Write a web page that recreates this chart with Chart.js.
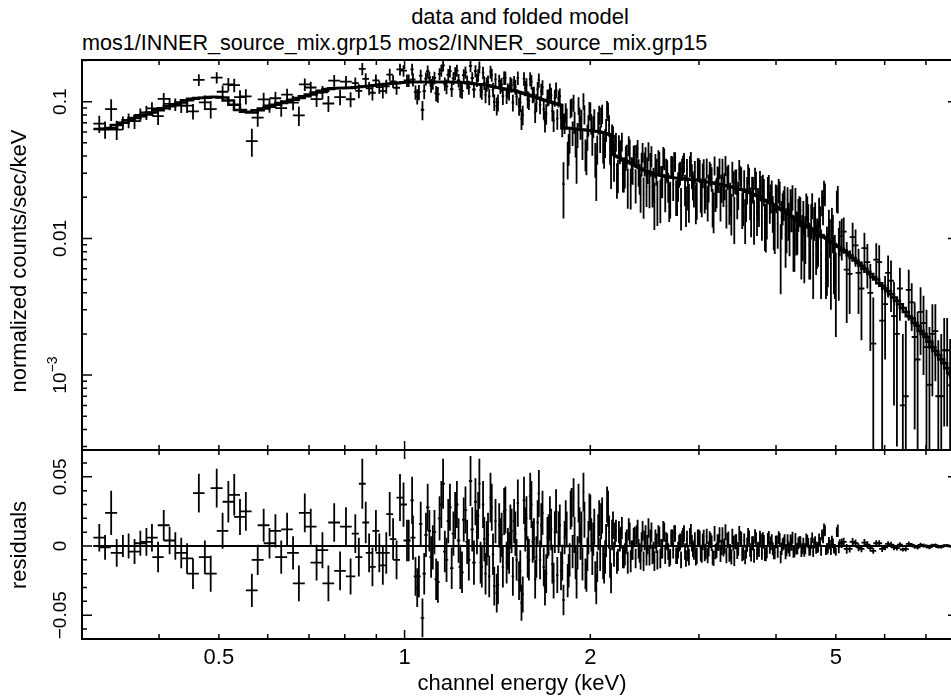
<!DOCTYPE html>
<html><head><meta charset="utf-8">
<script src="https://cdn.jsdelivr.net/npm/chart.js@4.4.1/dist/chart.umd.min.js"></script>
<style>
html,body{margin:0;padding:0;background:#fff;width:951px;height:697px;overflow:hidden;}
#wrap{position:relative;width:951px;height:697px;overflow:hidden;font-family:'Liberation Sans',Arial,Helvetica,sans-serif;color:#000;}
.t{position:absolute;white-space:nowrap;font-size:22px;line-height:22px;}
#t1{left:0;width:1040px;text-align:center;top:6px;}
#t2{left:82px;top:32px;font-size:21.6px;}
#c1{position:absolute;left:0;top:0;}
#c2{position:absolute;left:0;top:440px;}
</style></head>
<body><div id="wrap">
<div class="t" id="t1">data and folded model</div>
<div class="t" id="t2">mos1/INNER_source_mix.grp15 mos2/INNER_source_mix.grp15</div>
<canvas id="c1" width="970" height="460"></canvas>
<canvas id="c2" width="970" height="257"></canvas>
</div>
<script>
// ---------------- data (keV, normalized counts/sec/keV) ----------------
const edgesMos1 = [0.313,0.327,0.342,0.357,0.373,0.390,0.407,0.425,0.444,0.464,0.485,0.507,0.529,0.553,0.578,0.604,0.631,0.659,0.689,0.720,0.752,0.786,0.821,
0.843,0.865,0.887,0.910,0.934,0.958,0.983,1.009,1.022,1.035,1.048,1.062,1.076,1.090,1.104,1.118,1.132,1.147,1.162,1.177,1.192,1.208,1.223,1.239,1.255,1.271,1.287,1.304,
1.316,1.328,1.340,1.353,1.365,1.378,1.391,1.404,1.417,1.430,1.443,1.457,1.470,1.484,1.498,1.512,1.526,1.540,1.554,1.569,1.583,1.598,1.613,1.628,1.643,1.658,1.673,1.689,1.704,1.720,1.736,1.752,1.768,1.785,1.801,1.818,
1.831,1.845,1.858,1.872,1.886,1.900,1.914,1.928,1.942,1.957,1.971,1.986,2.000,2.015,2.030,2.045,2.060,2.075,2.090,2.106,2.121,2.137,2.153,2.169,2.185,2.201,2.217,2.234,2.250,2.267,2.283,2.300,2.317,2.334,2.351,2.369,2.386,2.404,2.422,2.440,2.458,2.476,2.494,2.513,2.531,2.550,2.569,2.588,2.607,2.626,2.645,2.665,2.685,2.705,2.725,2.745,2.765,2.786,2.806,2.827,2.848,2.869,2.890,2.911,2.933,2.955,2.976,2.998,3.020,3.043,
3.065,3.088,3.111,3.134,3.157,3.180,3.204,3.228,3.251,3.275,3.300,3.324,3.348,3.373,3.398,3.423,3.448,3.474,3.500,3.526,3.552,3.578,3.604,3.631,3.658,3.685,3.712,3.740,3.767,3.795,3.823,3.851,3.880,3.908,3.937,3.966,3.996,4.025,4.055,4.085,4.115,4.145,4.176,4.207,4.238,4.269,4.300,4.332,4.364,4.397,4.429,4.462,4.495,4.528,4.561,4.595,4.629,4.663,4.697,4.732,4.767,4.802,4.837,4.873,4.909,4.946,4.982,5.019,5.056,5.093,
5.207,5.323,5.442,5.563,5.687,5.814,5.944,6.076,6.212,6.350,6.492,6.637,6.785,6.936,7.091,7.249,7.411,7.576,7.745,7.900];
const rateMos1 = [0.069,0.0882,0.070,0.072,0.0835,0.0785,0.0965,0.0935,0.085,0.099,0.150,0.134,0.108,0.0515,0.104,0.106,0.1125,0.0794,0.127,0.117,0.1425,0.140,
0.1365,0.174,0.1253,0.143,0.1195,0.158,0.1265,0.1685,0.1433,0.1723,0.1173,0.1173,0.0873,0.1473,0.1503,0.1383,0.1153,0.1593,0.1843,0.1293,0.1673,0.1482,0.169,0.123,0.1565,0.1395,0.1825,0.1228,
0.1443,0.179,0.1183,0.1378,0.134,0.1092,0.157,0.0995,0.0932,0.1413,0.133,0.1492,0.111,0.1172,0.132,0.1382,0.109,0.0928,0.075,0.1475,0.1327,0.1018,0.140,0.1138,0.099,0.1437,0.119,0.0878,0.0819,0.1083,0.1113,0.073,0.122,0.1055,0.0766,0.025,
0.0842,0.039,0.0538,0.0915,0.0983,0.0511,0.0579,0.0776,0.0744,0.1012,0.042,0.0557,0.0865,0.0693,0.0661,0.0388,0.0456,0.0802,0.0778,0.0473,0.0508,0.0883,0.0675,0.034,0.056,0.048,0.0275,0.0488,0.0442,0.0297,0.0312,0.0405,0.0479,0.0243,0.0317,0.041,0.0414,0.0309,0.0224,0.0429,0.0354,0.024,0.0436,0.0352,0.0238,0.0185,0.0313,0.0371,0.0199,0.0267,0.0385,0.0323,0.0242,0.020,0.0338,0.0367,0.0206,0.0245,0.0304,0.0323,0.0362,0.0181,0.022,0.0339,0.0289,0.0228,0.0187,0.0326,0.0314,0.0203,
0.0322,0.0219,0.0188,0.0306,0.0275,0.0163,0.0211,0.028,0.0328,0.0237,0.0225,0.0343,0.0281,0.018,0.0158,0.0256,0.0264,0.0191,0.0319,0.0277,0.0175,0.0142,0.0229,0.0276,0.0153,0.023,0.0277,0.0154,0.0171,0.0236,0.0242,0.0129,0.0146,0.0243,0.020,0.0157,0.0123,0.0199,0.0226,0.0083,0.0169,0.0196,0.0122,0.0139,0.0186,0.0202,0.0099,0.0116,0.0153,0.016,0.0108,0.0085,0.0173,0.014,0.0088,0.0176,0.0133,0.009,0.0098,0.0136,0.0185,0.0222,0.007,0.0077,0.0105,0.0133,0.0071,0.0049,0.0197,0.0104,
0.0112,0.0055,0.0089,0.0043,0.0067,0.0017,0.0067,0.0033,0.0049,0.002,0.0006,0.0042,0.0019,0.0029,0.0016,0.002,0.0007,0.00152,0.00084,0.0011];
const errMos1 = [0.010,0.016,0.008,0.009,0.010,0.011,0.010,0.011,0.011,0.012,0.014,0.015,0.013,0.012,0.012,0.012,0.012,0.013,0.013,0.013,0.014,0.014,
0.014,0.018,0.014,0.015,0.014,0.016,0.014,0.016,0.015,0.017,0.014,0.015,0.014,0.016,0.015,0.016,0.015,0.016,0.018,0.016,0.017,0.016,0.017,0.016,0.016,0.016,0.018,0.016,
0.016,0.018,0.015,0.016,0.016,0.015,0.017,0.014,0.014,0.016,0.016,0.017,0.015,0.015,0.016,0.016,0.015,0.014,0.013,0.017,0.016,0.015,0.017,0.015,0.015,0.017,0.016,0.014,0.014,0.015,0.015,0.013,0.016,0.015,0.014,0.011,
0.013,0.012,0.012,0.014,0.014,0.012,0.012,0.013,0.013,0.014,0.011,0.012,0.013,0.012,0.012,0.011,0.011,0.013,0.013,0.012,0.012,0.013,0.012,0.011,0.010,0.009,0.008,0.008,0.008,0.008,0.008,0.008,0.008,0.008,0.007,0.007,0.007,0.007,0.007,0.007,0.007,0.007,0.007,0.007,0.007,0.007,0.007,0.007,0.007,0.007,0.007,0.006,0.006,0.006,0.006,0.006,0.006,0.006,0.006,0.006,0.006,0.006,0.006,0.006,0.006,0.006,0.006,0.006,0.006,0.006,
0.0058,0.0056,0.0055,0.0057,0.0056,0.0054,0.0055,0.0055,0.0056,0.0055,0.0055,0.0057,0.0055,0.0054,0.0053,0.0054,0.0054,0.0053,0.0055,0.0054,0.0052,0.0051,0.0052,0.0052,0.0051,0.0051,0.0052,0.005,0.005,0.005,0.005,0.0048,0.0048,0.0048,0.0048,0.0047,0.0046,0.0046,0.0046,0.0044,0.0045,0.0045,0.0044,0.0043,0.0043,0.0043,0.0042,0.0041,0.0041,0.004,0.004,0.0038,0.004,0.0038,0.0038,0.0038,0.0037,0.0036,0.0036,0.0036,0.004,0.0042,0.0034,0.0033,0.0033,0.0034,0.0032,0.003,0.0045,0.003,
0.0030,0.0027,0.0027,0.0025,0.0024,0.0020,0.0022,0.0020,0.0020,0.0017,0.0014,0.0017,0.0015,0.0015,0.0014,0.0013,0.0011,0.0011,0.0010,0.0009];
const modelMos1 = [0.0630,0.0642,0.0700,0.0760,0.0805,0.0865,0.0925,0.0985,0.1050,0.1070,0.1082,0.1020,0.0870,0.0835,0.0890,0.0950,0.1005,0.1064,0.1130,0.1200,0.1255,0.1260,
0.1275,0.129,0.1303,0.132,0.1335,0.135,0.1365,0.1385,0.1393,0.1393,0.1393,0.1393,0.1393,0.1393,0.1393,0.1393,0.1393,0.1393,0.1393,0.1393,0.1393,0.1392,0.139,0.138,0.1375,0.1365,0.1355,0.1348,
0.1343,0.134,0.1333,0.1328,0.132,0.1312,0.129,0.1285,0.1272,0.1263,0.125,0.1242,0.123,0.1222,0.121,0.1202,0.119,0.1178,0.116,0.1145,0.1127,0.1118,0.110,0.1088,0.107,0.1057,0.104,0.1028,0.1019,0.1003,0.0993,0.098,0.097,0.0955,0.0946,0.064,
0.0642,0.064,0.0638,0.0635,0.0633,0.0631,0.0629,0.0626,0.0624,0.0622,0.062,0.0617,0.0615,0.0613,0.0611,0.0608,0.0606,0.0602,0.0598,0.0593,0.0588,0.0583,0.0575,0.0572,0.041,0.040,0.0395,0.0388,0.0382,0.0377,0.0372,0.0365,0.0359,0.0353,0.0347,0.034,0.0334,0.0329,0.0324,0.0319,0.0314,0.031,0.0306,0.0302,0.0298,0.0295,0.0293,0.0291,0.0289,0.0287,0.0285,0.0283,0.0282,0.028,0.0278,0.0277,0.0276,0.0275,0.0274,0.0273,0.0272,0.0271,0.027,0.0269,0.0269,0.0268,0.0267,0.0266,0.0264,0.0263,
0.0262,0.0259,0.0258,0.0256,0.0255,0.0253,0.0251,0.025,0.0248,0.0247,0.0245,0.0243,0.0241,0.024,0.0238,0.0236,0.0234,0.0231,0.0229,0.0227,0.0225,0.0222,0.0219,0.0216,0.0213,0.021,0.0207,0.0204,0.0201,0.0196,0.0192,0.0189,0.0186,0.0183,0.018,0.0177,0.0173,0.0169,0.0166,0.0163,0.0159,0.0156,0.0152,0.0149,0.0146,0.0142,0.0139,0.0136,0.0133,0.013,0.0128,0.0125,0.0123,0.012,0.0118,0.0116,0.0113,0.011,0.0108,0.0106,0.0105,0.0102,0.01,0.0097,0.0095,0.0093,0.0091,0.0089,0.0087,0.0085,
0.0082,0.0075,0.0069,0.0063,0.0057,0.0052,0.0047,0.0043,0.0039,0.0035,0.0031,0.0027,0.0024,0.0021,0.0019,0.0016,0.0014,0.00122,0.00104,0.0009];

const edgesMos2 = [0.320,0.334,0.349,0.365,0.381,0.398,0.416,0.434,0.454,0.474,0.496,0.518,0.541,0.565,0.591,0.617,0.645,0.674,0.704,0.736,0.769,0.803,0.832,
0.854,0.876,0.898,0.922,0.946,0.970,0.996,1.022,1.0415,1.055,1.069,1.083,1.097,1.111,1.125,1.1395,1.1545,1.1695,1.1845,1.200,1.2155,1.231,1.247,1.263,1.279,1.2955,1.310,
1.322,1.334,1.3465,1.359,1.3715,1.3845,1.3975,1.4105,1.4235,1.4365,1.45,1.4635,1.477,1.491,1.505,1.519,1.533,1.547,1.5615,1.576,1.5905,1.6055,1.6205,1.6355,1.6505,1.6655,1.681,1.6965,1.712,1.728,1.744,1.760,1.7765,1.793,1.8095,1.8245,
1.838,1.8515,1.865,1.879,1.893,1.907,1.921,1.935,1.9495,1.964,1.9785,1.993,2.0075,2.0225,2.0375,2.0525,2.0675,2.0825,2.098,2.1135,2.129,2.145,2.161,2.177,2.193,2.209,2.2255,2.242,2.2585,2.275,2.2915,2.3085,2.3255,2.3425,2.36,2.3775,2.395,2.413,2.431,2.449,2.467,2.485,2.5035,2.522,2.5405,2.5595,2.5785,2.5975,2.6165,2.6355,2.655,2.675,2.695,2.715,2.735,2.755,2.7755,2.796,2.8165,2.8375,2.8585,2.8795,2.9005,2.922,2.944,2.9655,2.987,3.009,3.0315,
3.054,3.0765,3.0995,3.1225,3.1455,3.1685,3.192,3.216,3.2395,3.263,3.2875,3.312,3.336,3.3605,3.3855,3.4105,3.4355,3.461,3.487,3.513,3.539,3.565,3.591,3.6175,3.6445,3.6715,3.6985,3.726,3.7535,3.781,3.809,3.837,3.8655,3.894,3.9225,3.9515,3.981,4.0105,4.04,4.07,4.10,4.13,4.1605,4.1915,4.2225,4.2535,4.2845,4.316,4.348,4.3805,4.413,4.4455,4.4785,4.5115,4.5445,4.578,4.612,4.646,4.68,4.7145,4.7495,4.7845,4.8195,4.855,4.891,4.9275,4.964,5.0005,5.0375,5.0745,5.150,
5.265,5.382,5.502,5.625,5.750,5.879,6.010,6.144,6.281,6.421,6.564,6.711,6.860,7.013,7.170,7.330,7.493,7.660,7.830];
const rateMos2 = [0.0625,0.0625,0.073,0.0802,0.0892,0.1047,0.0955,0.0935,0.1445,0.0882,0.1182,0.132,0.1095,0.0765,0.094,0.0897,0.0985,0.1337,0.1045,0.097,0.108,0.1042,
0.120,0.1467,0.1162,0.128,0.1295,0.141,0.1725,0.143,0.1453,0.1093,0.1553,0.1193,0.1673,0.1313,0.1493,0.1133,0.1693,0.1353,0.1573,0.1233,0.1613,0.1432,0.120,0.164,0.1275,0.1485,0.1675,
0.1563,0.1218,0.163,0.1124,0.1396,0.1651,0.1227,0.1457,0.0987,0.1296,0.1096,0.1496,0.1206,0.1356,0.0986,0.1286,0.1494,0.0989,0.0802,0.1256,0.1042,0.1469,0.1124,0.0839,0.1233,0.0949,0.1274,0.0724,0.1071,0.1198,0.0856,0.1068,0.0752,0.110,0.068,0.070,
0.0762,0.046,0.0898,0.0595,0.0713,0.0361,0.0939,0.0646,0.0494,0.0812,0.040,0.0677,0.0855,0.0523,0.0751,0.0298,0.0706,0.0542,0.0818,0.0433,0.0628,0.0853,0.0455,0.057,0.035,0.051,0.0295,0.0428,0.0512,0.0297,0.0392,0.0245,0.0449,0.0323,0.0407,0.025,0.0454,0.0279,0.0354,0.0209,0.0394,0.032,0.0236,0.0402,0.0258,0.0345,0.0193,0.0361,0.0269,0.0397,0.0225,0.0313,0.0192,0.034,0.0248,0.0367,0.0206,0.0295,0.0174,0.0343,0.0232,0.0321,0.019,0.0369,0.0249,0.0308,0.0197,0.0326,0.0214,0.0293,
0.0212,0.0329,0.0238,0.0296,0.0175,0.0343,0.0221,0.027,0.0188,0.0327,0.0245,0.0173,0.0291,0.020,0.0308,0.0146,0.0264,0.0211,0.0289,0.0167,0.0265,0.0182,0.0299,0.0186,0.0233,0.014,0.0257,0.0184,0.0261,0.0146,0.0222,0.0129,0.0236,0.0173,0.022,0.0127,0.0203,0.0129,0.0216,0.0143,0.0179,0.0106,0.0192,0.0119,0.0156,0.0102,0.0189,0.0116,0.0163,0.009,0.0148,0.0105,0.0163,0.009,0.0138,0.0076,0.0143,0.010,0.0158,0.0076,0.0165,0.0212,0.008,0.0127,0.0065,0.0113,0.0071,0.0189,0.0077,0.0104,
0.0059,0.0102,0.0056,0.0085,0.004,0.007,0.0025,0.0056,0.0027,0.0043,0.0007,0.0034,0.0013,0.0024,0.00085,0.0021,0.0007,0.00152,0.00087];
const errMos2 = [0.009,0.010,0.009,0.009,0.010,0.011,0.010,0.011,0.014,0.013,0.013,0.015,0.014,0.011,0.011,0.012,0.012,0.014,0.013,0.013,0.014,0.013,
0.014,0.015,0.014,0.014,0.015,0.015,0.017,0.015,0.016,0.014,0.016,0.015,0.017,0.015,0.016,0.015,0.017,0.015,0.016,0.015,0.017,0.016,0.015,0.017,0.015,0.016,0.017,
0.017,0.015,0.017,0.015,0.016,0.018,0.015,0.016,0.014,0.016,0.015,0.017,0.015,0.016,0.014,0.016,0.017,0.015,0.013,0.016,0.015,0.017,0.015,0.014,0.016,0.014,0.016,0.013,0.015,0.016,0.014,0.015,0.013,0.015,0.013,0.012,
0.013,0.012,0.014,0.012,0.013,0.011,0.014,0.012,0.012,0.013,0.011,0.012,0.013,0.012,0.013,0.011,0.013,0.012,0.013,0.011,0.012,0.013,0.011,0.011,0.009,0.008,0.008,0.008,0.008,0.008,0.008,0.008,0.008,0.007,0.007,0.007,0.007,0.007,0.007,0.007,0.007,0.007,0.007,0.007,0.007,0.007,0.007,0.007,0.007,0.007,0.007,0.006,0.006,0.006,0.006,0.006,0.006,0.006,0.006,0.006,0.006,0.006,0.006,0.006,0.006,0.006,0.006,0.006,0.006,0.006,0.006,
0.0055,0.0055,0.0055,0.0055,0.0055,0.0055,0.0055,0.0055,0.0055,0.0055,0.0055,0.0055,0.0055,0.0055,0.0055,0.0055,0.005,0.005,0.005,0.005,0.005,0.005,0.005,0.005,0.005,0.005,0.005,0.005,0.005,0.005,0.005,0.0045,0.0045,0.0045,0.0045,0.0045,0.0045,0.0045,0.0045,0.0045,0.0045,0.0045,0.0045,0.0045,0.0045,0.0045,0.004,0.004,0.004,0.004,0.004,0.004,0.004,0.004,0.004,0.004,0.004,0.004,0.004,0.004,0.004,0.0042,0.0035,0.0035,0.0035,0.0035,0.0035,0.0042,0.0035,0.0035,
0.0028,0.0028,0.0025,0.0025,0.0022,0.0023,0.0019,0.0021,0.0018,0.0018,0.0013,0.0016,0.0014,0.0014,0.0012,0.0013,0.0011,0.0011,0.0009];
const modelMos2 = [0.0635,0.0675,0.073,0.0782,0.0832,0.0897,0.0955,0.1025,0.1062,0.1082,0.1072,0.095,0.0845,0.0865,0.092,0.0977,0.1035,0.1097,0.1165,0.124,0.126,0.1262,
0.128,0.1297,0.1312,0.133,0.1345,0.136,0.1375,0.139,0.1393,0.1393,0.1393,0.1393,0.1393,0.1393,0.1393,0.1393,0.1393,0.1393,0.1393,0.1393,0.1393,0.1392,0.139,0.138,0.1375,0.1365,0.1355,
0.1343,0.1338,0.133,0.1324,0.1316,0.1301,0.1287,0.1277,0.1267,0.1256,0.1246,0.1236,0.1226,0.1216,0.1206,0.1196,0.1184,0.1169,0.1152,0.1136,0.1122,0.1109,0.1094,0.1079,0.1063,0.1049,0.1034,0.1024,0.1011,0.0998,0.0986,0.0968,0.0962,0.095,0.080,0.064,
0.0642,0.064,0.0638,0.0635,0.0633,0.0631,0.0629,0.0626,0.0624,0.0622,0.062,0.0617,0.0615,0.0613,0.0611,0.0608,0.0606,0.0602,0.0598,0.0593,0.0588,0.0583,0.0575,0.049,0.041,0.040,0.0395,0.0388,0.0382,0.0377,0.0372,0.0365,0.0359,0.0353,0.0347,0.034,0.0334,0.0329,0.0324,0.0319,0.0314,0.031,0.0306,0.0302,0.0298,0.0295,0.0293,0.0291,0.0289,0.0287,0.0285,0.0283,0.0282,0.028,0.0278,0.0277,0.0276,0.0275,0.0274,0.0273,0.0272,0.0271,0.027,0.0269,0.0269,0.0268,0.0267,0.0266,0.0264,0.0263,
0.0262,0.0259,0.0258,0.0256,0.0255,0.0253,0.0251,0.025,0.0248,0.0247,0.0245,0.0243,0.0241,0.024,0.0238,0.0236,0.0234,0.0231,0.0229,0.0227,0.0225,0.0222,0.0219,0.0216,0.0213,0.021,0.0207,0.0204,0.0201,0.0196,0.0192,0.0189,0.0186,0.0183,0.018,0.0177,0.0173,0.0169,0.0166,0.0163,0.0159,0.0156,0.0152,0.0149,0.0146,0.0142,0.0139,0.0136,0.0133,0.013,0.0128,0.0125,0.0123,0.012,0.0118,0.0116,0.0113,0.011,0.0108,0.0106,0.0105,0.0102,0.01,0.0097,0.0095,0.0093,0.0091,0.0089,0.0087,0.0084,
0.0079,0.0072,0.0066,0.006,0.0055,0.005,0.0045,0.0041,0.0037,0.0033,0.0029,0.0026,0.0023,0.002,0.00175,0.0015,0.0013,0.00112,0.00097];

// tick values / labels
const xTickValues = [0.4,0.5,0.6,0.7,0.8,0.9,1,2,3,4,5,6,7];
const xMajorTicks = [1];
const xLabelValues = [0.5,1,2,5];
const xLabelTexts = ['0.5','1','2','5'];
const yTopMajorTicks = [0.001,0.01,0.1];
const yTopMinorTicks = [0.0003,0.0004,0.0005,0.0006,0.0007,0.0008,0.0009,0.002,0.003,0.004,0.005,0.006,0.007,0.008,0.009,0.02,0.03,0.04,0.05,0.06,0.07,0.08,0.09,0.2];
const yTopLabelValues = [0.1,0.01,0.001];
const yTopLabelTexts = ['0.1','0.01','10'];
const yTopLabelSups = ['','','\u22123'];
const yResMajorTicks = [-0.05,0,0.05];
const yResMinorTicks = [-0.06,-0.04,-0.03,-0.02,-0.01,0.01,0.02,0.03,0.04,0.06];
const yResLabelValues = [0.05,0,-0.05];
const yResLabelTexts = ['0.05','0','\u22120.05'];

// --------------- helpers ---------------
const FONT = "'Liberation Sans', Arial, Helvetica, sans-serif";
function errorBarPoints(edges, vals, errs, floor) {
  const pts = [];
  const n = Math.min(vals.length, errs.length, edges.length - 1);
  for (let i = 0; i < n; i++) {
    const lo = edges[i], hi = edges[i + 1], c = (lo + hi) / 2, v = vals[i], e = errs[i];
    const low = (floor === undefined) ? v - e : Math.max(v - e, floor);
    pts.push({x: lo, y: v}, {x: hi, y: v}, {x: c, y: null});
    pts.push({x: c, y: low}, {x: c, y: v + e}, {x: c, y: null});
  }
  return pts;
}
function stepPoints(edges, vals) {
  const pts = [];
  const n = Math.min(vals.length, edges.length - 1);
  for (let i = 0; i < n; i++) pts.push({x: edges[i], y: vals[i]}, {x: edges[i + 1], y: vals[i]});
  return pts;
}
// residuals = data - folded model
const residMos1 = rateMos1.map((r, i) => r - modelMos1[i]);
const residMos2 = rateMos2.map((r, i) => r - modelMos2[i]);

function drawVText(ctx, x, y, text, sup, size) {
  ctx.save();
  ctx.translate(x, y);
  ctx.rotate(-Math.PI / 2);
  ctx.textBaseline = 'middle';
  ctx.font = size + 'px ' + FONT;
  if (!sup) { ctx.textAlign = 'center'; ctx.fillText(text, 0, 0); }
  else {
    const w1 = ctx.measureText(text).width;
    const ss = Math.round(size * 0.72);
    ctx.font = ss + 'px ' + FONT;
    const w2 = ctx.measureText(sup).width;
    const start = -(w1 + w2) / 2;
    ctx.textAlign = 'left';
    ctx.font = size + 'px ' + FONT;
    ctx.fillText(text, start, 0);
    ctx.font = ss + 'px ' + FONT;
    ctx.fillText(sup, start + w1, -size * 0.42);
  }
  ctx.restore();
}

const axesPlugin = {
  id: 'xspecAxes',
  afterDraw(chart, args, o) {
    const ctx = chart.ctx, a = chart.chartArea, xs = chart.scales.x, ys = chart.scales.y;
    ctx.save();
    ctx.strokeStyle = '#000';
    ctx.fillStyle = '#000';
    ctx.lineWidth = 1.5;
    ctx.beginPath();
    xTickValues.forEach(v => {
      const px = xs.getPixelForValue(v);
      const L = xMajorTicks.includes(v) ? 9 : 5;
      ctx.moveTo(px, a.bottom); ctx.lineTo(px, a.bottom - L);
      ctx.moveTo(px, a.top); ctx.lineTo(px, a.top + L);
    });
    o.yMajor.forEach(v => {
      const py = ys.getPixelForValue(v);
      ctx.moveTo(a.left, py); ctx.lineTo(a.left + 10, py);
      ctx.moveTo(a.right, py); ctx.lineTo(a.right - 10, py);
    });
    o.yMinor.forEach(v => {
      const py = ys.getPixelForValue(v);
      ctx.moveTo(a.left, py); ctx.lineTo(a.left + 5, py);
      ctx.moveTo(a.right, py); ctx.lineTo(a.right - 5, py);
    });
    ctx.stroke();
    ctx.lineWidth = 2;
    ctx.strokeRect(a.left, a.top, a.right - a.left, a.bottom - a.top);
    o.yLabelValues.forEach((v, i) => {
      drawVText(ctx, a.left - 21, ys.getPixelForValue(v), o.yLabelTexts[i], o.yLabelSups ? o.yLabelSups[i] : '', 19);
    });
    drawVText(ctx, 20, o.titleY, o.yTitle, '', 22);
    if (o.xLabels) {
      ctx.font = '22px ' + FONT;
      ctx.textAlign = 'center';
      ctx.textBaseline = 'middle';
      xLabelValues.forEach((v, i) => ctx.fillText(xLabelTexts[i], xs.getPixelForValue(v), a.bottom + 19));
      ctx.fillText('channel energy (keV)', (a.left + a.right) / 2 + 2, a.bottom + 45);
    }
    ctx.restore();
  }
};

function lineDs(data, w) {
  return {data, showLine: true, borderColor: '#000', borderWidth: w, pointRadius: 0, spanGaps: false, fill: false, tension: 0};
}
function baseOptions(padding, yScale, pluginOpts) {
  return {
    responsive: false, animation: false, devicePixelRatio: 1, events: [],
    layout: {padding, autoPadding: false},
    plugins: {legend: {display: false}, tooltip: {enabled: false}, title: {display: false}, xspecAxes: pluginOpts},
    scales: {
      x: {type: 'logarithmic', min: 0.3128, max: 7.889, display: false},
      y: yScale
    }
  };
}

Chart.register(axesPlugin);

new Chart(document.getElementById('c1'), {
  type: 'scatter',
  data: {datasets: [
    lineDs(stepPoints(edgesMos1, modelMos1), 2.5),
    lineDs(stepPoints(edgesMos2, modelMos2), 2.5),
    lineDs(errorBarPoints(edgesMos1, rateMos1, errMos1, 1e-7), 1.8),
    lineDs(errorBarPoints(edgesMos2, rateMos2, errMos2, 1e-7), 1.8)
  ]},
  options: baseOptions({left: 82, top: 60, right: 12, bottom: 10},
    {type: 'logarithmic', min: 2.832e-4, max: 0.2018, display: false},
    {yMajor: yTopMajorTicks, yMinor: yTopMinorTicks, yLabelValues: yTopLabelValues, yLabelTexts: yTopLabelTexts, yLabelSups: yTopLabelSups,
     yTitle: 'normalized counts/sec/keV', titleY: 261, xLabels: false})
});

new Chart(document.getElementById('c2'), {
  type: 'scatter',
  data: {datasets: [
    lineDs([{x: 0.3128, y: 0}, {x: 7.889, y: 0}], 2),
    lineDs(errorBarPoints(edgesMos1, residMos1, errMos1), 1.8),
    lineDs(errorBarPoints(edgesMos2, residMos2, errMos2), 1.8)
  ]},
  options: baseOptions({left: 82, top: 10, right: 12, bottom: 58},
    {type: 'linear', min: -0.0672, max: 0.0694, display: false},
    {yMajor: yResMajorTicks, yMinor: yResMinorTicks, yLabelValues: yResLabelValues, yLabelTexts: yResLabelTexts,
     yTitle: 'residuals', titleY: 105, xLabels: true})
});
</script>
</body></html>
